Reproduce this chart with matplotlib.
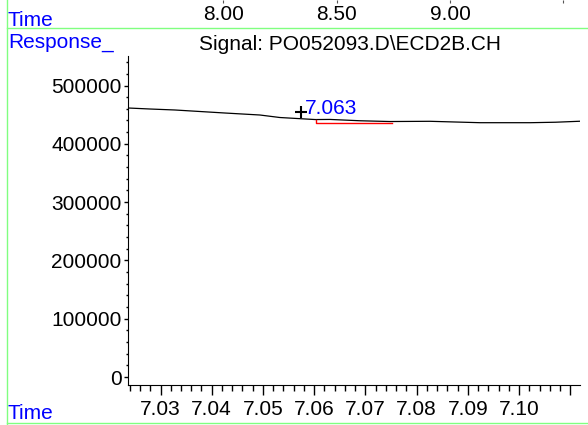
import numpy as np
import matplotlib.pyplot as plt
from matplotlib.lines import Line2D
from matplotlib.ticker import MultipleLocator
import matplotlib.transforms as mtransforms

plt.rcParams['font.family'] = ['Liberation Sans', 'DejaVu Sans']

# datos de la señal (tiempo en min, respuesta)
tiempo = [7.0237, 7.0279, 7.0328, 7.0426, 7.0494, 7.0533, 7.0602, 7.0631,
          7.0690, 7.0748, 7.0826, 7.0924, 7.1022, 7.1071, 7.1119]
respuesta = [461400, 459700, 458000, 452800, 449400, 445100, 441600, 441800,
             439500, 438200, 438600, 436200, 436200, 437000, 438700]

# linea base del pico integrado
base_t = [7.0603, 7.0603, 7.0752]
base_y = [441600, 435900, 435900]

# pico marcado
pico_t = 7.0574
pico_y = 455000
pico_label = "7.063"
pico_label_t = 7.0582
pico_label_y = 451100

# eje de tiempo de la franja superior (cortada)
top_ticks = [8.0, 8.5, 9.0, 9.5]
top_labels = [8.0, 8.5, 9.0]

# ticks del eje principal
x_ticks = [7.03, 7.04, 7.05, 7.06, 7.07, 7.08, 7.09, 7.10, 7.11]
x_labels = ["7.03", "7.04", "7.05", "7.06", "7.07", "7.08", "7.09", "7.10", ""]

W, H = 588, 425
fs = 15
azul = '#0000ff'
verde = '#80ff80'

fig = plt.figure(figsize=(W / 100, H / 100), dpi=100)

def px(x, y):
    return x / W, 1 - y / H

# ejes principales
x0, y0 = px(128, 385)
x1, y1 = px(580, 56)
ax = fig.add_axes([x0, y0, x1 - x0, y1 - y0])
ax.plot(tiempo, respuesta, color='black', linewidth=0.9)
ax.plot(base_t, base_y, color='red', linewidth=1)
ax.plot([pico_t], [pico_y], marker='+', color='black', markersize=9, mew=1.5)
ax.text(pico_label_t, pico_label_y, pico_label, color=azul, fontsize=fs,
        ha='left', va='baseline')

ax.set_xlim(7.02365, 7.1119)
ax.set_ylim(-13700, 550600)
ax.spines['top'].set_visible(False)
ax.spines['right'].set_visible(False)
ax.set_xticks(x_ticks)
ax.set_xticklabels(x_labels)
ax.xaxis.set_minor_locator(MultipleLocator(0.002))
ax.yaxis.set_major_locator(MultipleLocator(100000))
ax.yaxis.set_minor_locator(MultipleLocator(20000))
ax.tick_params(axis='x', which='major', length=7.5, width=1, pad=3.5, labelsize=fs)
ax.tick_params(axis='x', which='minor', length=4, width=1)
ax.tick_params(axis='y', which='major', length=3, width=1, pad=1.5, labelsize=fs)
ax.tick_params(axis='y', which='minor', length=1.7, width=1)

# franja superior con el eje de tiempo cortado
sx0, sy0 = px(128, 28)
sx1, sy1 = px(580, 0)
ax_top = fig.add_axes([sx0, sy0, sx1 - sx0, sy1 - sy0])
ax_top.set_xlim(7.5784, 9.574)
ax_top.set_ylim(0, 1)
for s in ax_top.spines.values():
    s.set_visible(False)
ax_top.xaxis.tick_top()
ax_top.set_xticks(top_ticks)
ax_top.set_xticklabels([])
ax_top.set_yticks([])
ax_top.tick_params(axis='x', direction='in', length=2.5, width=0.8, color='#555555')
ax_top.patch.set_alpha(0)
trans = mtransforms.blended_transform_factory(ax_top.transData, ax_top.transAxes)
for v in top_labels:
    ax_top.text(v, 8 / 28, f"{v:.2f}", transform=trans, ha='center', va='baseline',
                fontsize=fs)

# textos
fig.text(*px(8, 25.5), "Time", color=azul, fontsize=fs, ha='left', va='baseline')
fig.text(*px(8, 48), "Response_", color=azul, fontsize=fs, ha='left', va='baseline')
fig.text(*px(199, 50), "Signal: PO052093.D\\ECD2B.CH", color='black', fontsize=fs,
         ha='left', va='baseline')
fig.text(*px(8, 419), "Time", color=azul, fontsize=fs, ha='left', va='baseline')

# marco verde
fig.add_artist(Line2D([6.5 / W, 6.5 / W], [0, 1], transform=fig.transFigure, color=verde, lw=1))
fig.add_artist(Line2D([6.5 / W, 1], [1 - 28 / H, 1 - 28 / H], transform=fig.transFigure, color=verde, lw=1))
fig.add_artist(Line2D([6.5 / W, 1], [1 - 423 / H, 1 - 423 / H], transform=fig.transFigure, color=verde, lw=1))

fig.savefig('out.png', dpi=100)
